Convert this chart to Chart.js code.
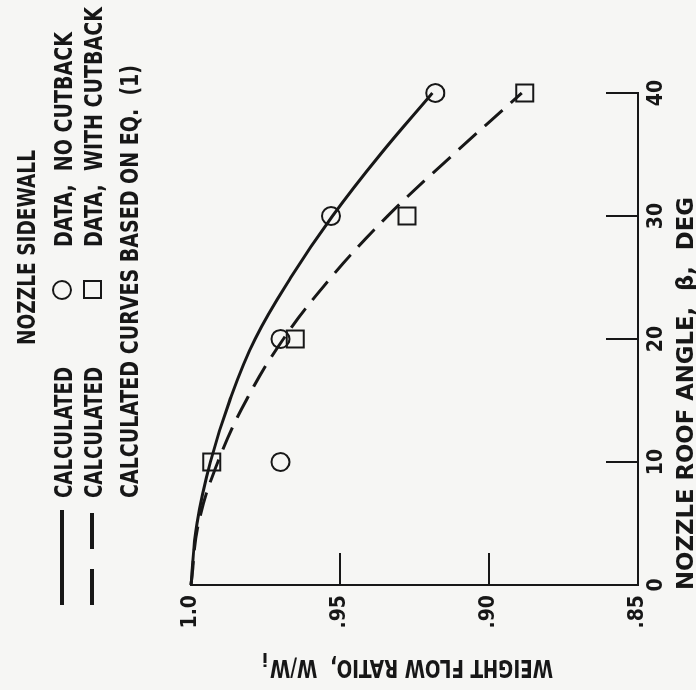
<!DOCTYPE html>
<html>
<head>
<meta charset="utf-8">
<script src="https://cdn.jsdelivr.net/npm/chart.js@4.4.1/dist/chart.umd.min.js"></script>
<style>
  html, body { margin: 0; padding: 0; background: #f6f6f4; overflow: hidden; }
  /* the figure is drawn upright, then turned a quarter turn like the scan */
  #page {
    position: absolute; left: 0; top: 0; width: 690px; height: 696px;
    transform-origin: 0 0;
    transform: translate(0, 690px) rotate(-90deg);
  }
</style>
</head>
<body>
<div id="page"><canvas id="myChart" width="690" height="696"></canvas></div>
<script>
// measured points, nozzle roof angle (deg) vs weight flow ratio
const dataAngles = [10, 20, 30, 40];
const noCutback = [0.970, 0.970, 0.953, 0.918];
const withCutback = [0.993, 0.965, 0.9275, 0.888];

const curveAngles = [0, 5, 10, 15, 20, 25, 30, 35, 40];
const calcNoCutback = [1.0, 0.998, 0.9935, 0.987, 0.9785, 0.9665, 0.9525, 0.9365, 0.919];
const calcWithCutback = [1.0, 0.9975, 0.991, 0.9815, 0.969, 0.953, 0.934, 0.912, 0.889];

const xTicks = [0, 10, 20, 30, 40];
const yTicks = [0.85, 0.90, 0.95, 1.0];
const yTickLabels = ['.85', '.90', '.95', '1.0'];

const ink = '#171717';
const fam = "'DejaVu Sans Condensed', 'Liberation Sans Narrow', 'DejaVu Sans', sans-serif";

const pairs = (xs, ys) => xs.map((x, i) => ({ x: x, y: ys[i] }));

// draws text squeezed to a given width (lettering on the scan is very narrow)
function fitText(ctx, text, u, v, w, size) {
    ctx.save();
    ctx.font = 'bold ' + size + 'px ' + fam;
    const m = ctx.measureText(text).width;
    ctx.translate(u, v);
    ctx.scale(w / m, 1);
    ctx.fillText(text, 0, 0);
    ctx.restore();
}

const annotations = {
    id: 'annotations',
    afterDraw(chart) {
        const { ctx, chartArea: a, scales: { x, y } } = chart;
        ctx.save();
        ctx.strokeStyle = ink;
        ctx.fillStyle = ink;
        ctx.textAlign = 'left';
        ctx.textBaseline = 'alphabetic';

        // tick marks point inwards
        ctx.lineWidth = 2;
        ctx.beginPath();
        xTicks.filter(t => t > 0).forEach(t => {
            const px = Math.round(x.getPixelForValue(t));
            ctx.moveTo(px, a.bottom);
            ctx.lineTo(px, a.bottom - 32);
        });
        yTicks.filter(t => t > 0.86 && t < 0.99).forEach(t => {
            const py = Math.round(y.getPixelForValue(t));
            ctx.moveTo(a.left, py);
            ctx.lineTo(a.left + 32, py);
        });
        ctx.stroke();

        // legend
        fitText(ctx, 'NOZZLE SIDEWALL', 345, 35, 195, 24);

        ctx.lineWidth = 4;
        ctx.beginPath();
        ctx.moveTo(85, 62); ctx.lineTo(180, 62);
        ctx.stroke();
        fitText(ctx, 'CALCULATED', 192, 72, 131, 24);
        ctx.lineWidth = 2;
        ctx.beginPath();
        ctx.arc(400, 62, 9, 0, Math.PI * 2);
        ctx.stroke();
        fitText(ctx, 'DATA,  NO CUTBACK', 443, 72, 215, 24);

        ctx.lineWidth = 4;
        ctx.setLineDash([36, 20]);
        ctx.beginPath();
        ctx.moveTo(85, 92); ctx.lineTo(180, 92);
        ctx.stroke();
        ctx.setLineDash([]);
        fitText(ctx, 'CALCULATED', 192, 102, 131, 24);
        ctx.lineWidth = 2;
        ctx.strokeRect(392, 84, 17, 17);
        fitText(ctx, 'DATA,  WITH CUTBACK', 443, 102, 240, 24);

        fitText(ctx, 'CALCULATED CURVES BASED ON EQ.  (1)', 192, 138, 433, 24);

        // axis titles
        fitText(ctx, 'NOZZLE ROOF ANGLE,  \u03b2,  DEG', 100, 693, 393, 23);

        ctx.save();
        ctx.translate(30, 553);
        ctx.rotate(-Math.PI / 2);
        fitText(ctx, 'WEIGHT FLOW RATIO,  W/W', 0, 0, 283, 24);
        fitText(ctx, 'i', 285, 7, 6, 17);
        ctx.restore();

        ctx.restore();
    }
};

const ctx = document.getElementById('myChart');

const flowChart = new Chart(ctx, {
    type: 'scatter',
    data: {
        datasets: [
            {
                label: 'Calculated, no cutback',
                data: pairs(curveAngles, calcNoCutback),
                showLine: true,
                borderColor: ink,
                borderWidth: 3,
                pointRadius: 0,
                tension: 0.4,
                clip: false
            },
            {
                label: 'Calculated, with cutback',
                data: pairs(curveAngles, calcWithCutback),
                showLine: true,
                borderColor: ink,
                borderWidth: 3,
                borderDash: [24, 11],
                pointRadius: 0,
                tension: 0.4,
                clip: false
            },
            {
                label: 'Data, no cutback',
                data: pairs(dataAngles, noCutback),
                pointStyle: 'circle',
                pointRadius: 9,
                pointBorderWidth: 2,
                pointBorderColor: ink,
                pointBackgroundColor: 'rgba(0,0,0,0)',
                clip: false
            },
            {
                label: 'Data, with cutback',
                data: pairs(dataAngles, withCutback),
                pointStyle: 'rect',
                pointRadius: 12,
                pointBorderWidth: 2,
                pointBorderColor: ink,
                pointBackgroundColor: 'rgba(0,0,0,0)',
                clip: false
            }
        ]
    },
    options: {
        responsive: false,
        animation: false,
        layout: { padding: { left: 0, right: 93, top: 191, bottom: 18 } },
        plugins: {
            legend: { display: false },
            tooltip: { enabled: false }
        },
        scales: {
            x: {
                type: 'linear',
                min: 0,
                max: 40,
                afterBuildTicks: s => { s.ticks = xTicks.map(v => ({ value: v })); },
                afterFit: s => { s.height = 40; },
                ticks: { color: ink, font: { family: fam, size: 21, weight: 'bold' }, padding: 6, maxRotation: 0 },
                grid: { display: false, drawTicks: false },
                border: { display: true, color: ink, width: 2 }
            },
            y: {
                type: 'linear',
                min: 0.85,
                max: 1.0,
                afterBuildTicks: s => { s.ticks = yTicks.map(v => ({ value: v })); },
                afterFit: s => { s.width = 105; },
                ticks: {
                    color: ink,
                    font: { family: fam, size: 21, weight: 'bold' },
                    padding: 10,
                    callback: v => yTickLabels[yTicks.findIndex(t => Math.abs(t - v) < 1e-6)]
                },
                grid: { display: false, drawTicks: false },
                border: { display: true, color: ink, width: 2 }
            }
        }
    },
    plugins: [annotations]
});
</script>
</body>
</html>
